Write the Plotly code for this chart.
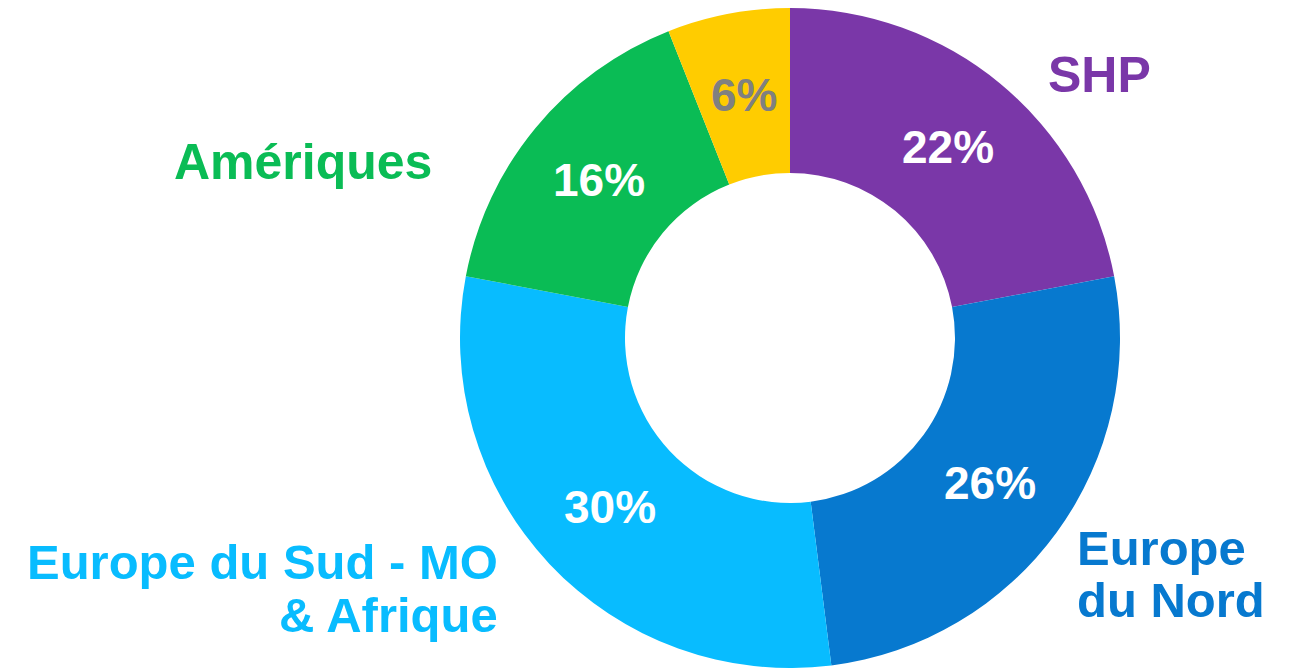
import math
import plotly.graph_objects as go

labels = ["SHP", "Europe du Nord", "Europe du Sud - MO & Afrique", "Amériques", "Autres"]
values = [22, 26, 30, 16, 6]
pct_text = ["22%", "26%", "30%", "16%", "6%"]
colors = ["#7A37A8", "#0779CF", "#08BCFF", "#0ABC55", "#FFCC00"]
text_colors = ["#FFFFFF", "#FFFFFF", "#FFFFFF", "#FFFFFF", "#808080"]

# outside label lines: (text, x px, y px, anchor, colour index)
ext_lines = [
    ("SHP", 1099, 75, "center", 0),
    ("Europe", 1075, 548, "left", 1),
    ("du Nord", 1075, 600, "left", 1),
    ("Europe du Sud - MO", 500, 562, "right", 2),
    ("& Afrique", 500, 615, "right", 2),
    ("Amériques", 303, 162, "center", 3),
]

W, H = 1294, 668
OFF = 8  # page body margin offset
CX, CY, R = 790, 338, 330
HOLE = 0.5

fig = go.Figure(go.Pie(
    labels=labels, values=values,
    sort=False, direction="clockwise", rotation=0, hole=HOLE,
    marker=dict(colors=colors, line=dict(width=0)),
    textinfo="none",
    domain=dict(x=[(CX - R - OFF) / W, (CX + R - OFF) / W], y=[1 - 2 * R / H, 1]),
    showlegend=False, hoverinfo="label+percent",
))

# percentage labels at the middle of the ring
total = sum(values)
cum = 0
rmid = R * (1 + HOLE) / 2
for v, t, c in zip(values, pct_text, text_colors):
    ang = 2 * math.pi * (cum + v / 2) / total
    cum += v
    px = CX + rmid * math.sin(ang)
    py = CY - rmid * math.cos(ang)
    fig.add_annotation(
        text=f"<b>{t}</b>", x=(px - OFF) / W, y=1 - (py - OFF) / H,
        xref="paper", yref="paper", xanchor="center", yanchor="middle",
        showarrow=False, font=dict(family="Liberation Sans, Arial", size=46, color=c),
    )

for lab, x, y, anc, ci in ext_lines:
    fig.add_annotation(
        text=f"<b>{lab}</b>", x=(x - OFF) / W, y=1 - (y - OFF) / H, xref="paper", yref="paper",
        xanchor=anc, yanchor="middle", showarrow=False,
        font=dict(family="Liberation Sans, Arial", size=50 if anc == "center" else 49,
                  color=colors[ci]),
    )

fig.update_layout(
    width=W, height=H, margin=dict(l=0, r=0, t=0, b=0),
    paper_bgcolor="white", plot_bgcolor="white",
    font=dict(family="Liberation Sans, Arial"),
)
fig.write_html("out.html")
